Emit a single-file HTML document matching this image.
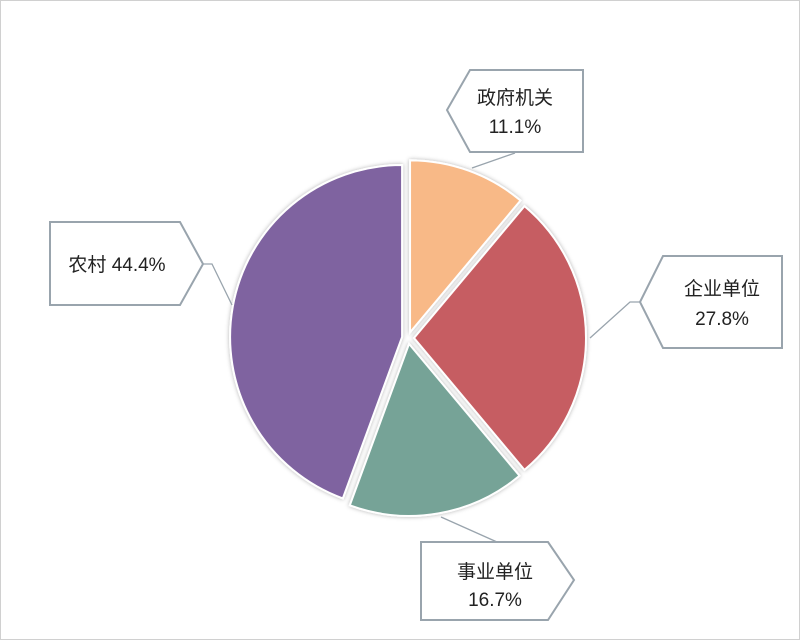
<!DOCTYPE html>
<html><head><meta charset="utf-8"><style>
html,body{margin:0;padding:0;background:#fff}
svg{display:block}
text{font-family:"Liberation Sans","Noto Sans CJK SC",sans-serif;font-size:19px;fill:#222}
</style></head><body>
<svg id="chart" width="800" height="640" viewBox="0 0 800 640">
<rect x="0.5" y="0.5" width="799" height="639" fill="#fff" stroke="#d0d0d0"/>
<defs><filter id="sh" x="-10%" y="-10%" width="120%" height="120%"><feDropShadow dx="0" dy="0" stdDeviation="2" flood-color="#000" flood-opacity="0.3"/></filter></defs>
<g id="slices"></g>
<g id="labels"></g>
</svg>
<script>
const categories = ["政府机关","企业单位","事业单位","农村"];
const values = [11.1, 27.8, 16.7, 44.4];
const labelTexts = ["11.1%","27.8%","16.7%","44.4%"];
const colors = ["#f8b987","#c65d62","#76a397","#7f63a0"];
const cx = 408, cy = 338, R = 172, explode = 6;
const ns = "http://www.w3.org/2000/svg";
const total = values.reduce((a,b)=>a+b,0);
function pt(c, ang, r){ return [c[0]+r*Math.sin(ang), c[1]-r*Math.cos(ang)]; }
const gS = document.getElementById('slices');
let a0 = 0;
const mids = [];
values.forEach((v,i)=>{
  const a1 = a0 + v/total*2*Math.PI;
  const mid = (a0+a1)/2;
  const c = [cx+explode*Math.sin(mid), cy-explode*Math.cos(mid)];
  mids.push({c, mid});
  const p0 = pt(c,a0,R), p1 = pt(c,a1,R);
  const large = (a1-a0)>Math.PI?1:0;
  const path = document.createElementNS(ns,'path');
  path.setAttribute('d',`M${c[0]},${c[1]} L${p0[0]},${p0[1]} A${R},${R} 0 ${large} 1 ${p1[0]},${p1[1]} Z`);
  path.setAttribute('fill',colors[i]);
  path.setAttribute('stroke','#fff');
  path.setAttribute('stroke-width','2');
  path.setAttribute('filter','url(#sh)');
  
  
  gS.appendChild(path);
  a0 = a1;
});
// callout boxes (layout)
const boxes = [
  {shape:"M470,70 L583,70 L583,152 L470,152 L447,110 Z", line:"M515,153 L472,168", tx:515, ty:[104,133], two:true},
  {shape:"M663,256 L782,256 L782,348 L663,348 L640,302 Z", line:"M640,302 L630,302 L590,338", tx:722, ty:[295,325], two:true},
  {shape:"M421,542 L548,542 L574,580 L548,620 L421,620 Z", line:"M441,517 L497,542", tx:495, ty:[578,606], two:true},
  {shape:"M50,222 L180,222 L203,264 L180,305 L50,305 Z", line:"M203,264 L212,264 L232,305", tx:117, ty:[271], two:false}
];
const gL = document.getElementById('labels');
boxes.forEach((b,i)=>{
  const ln = document.createElementNS(ns,'path');
  ln.setAttribute('d',b.line); ln.setAttribute('fill','none'); ln.setAttribute('stroke','#99a4ad'); ln.setAttribute('stroke-width','1.3');
  
  
  gL.appendChild(ln);
  const bx = document.createElementNS(ns,'path');
  bx.setAttribute('d',b.shape); bx.setAttribute('fill','#fff'); bx.setAttribute('stroke','#99a4ad'); bx.setAttribute('stroke-width','2');
  
  
  gL.appendChild(bx);
  const lines = b.two ? [categories[i], labelTexts[i]] : [categories[i]+" "+labelTexts[i]];
  lines.forEach((s,k)=>{
    const t = document.createElementNS(ns,'text');
    t.setAttribute('x',b.tx); t.setAttribute('y',b.ty[k]); t.setAttribute('text-anchor','middle');
    t.textContent = s;
    
    
    gL.appendChild(t);
  });
});
</script>
</body></html>
